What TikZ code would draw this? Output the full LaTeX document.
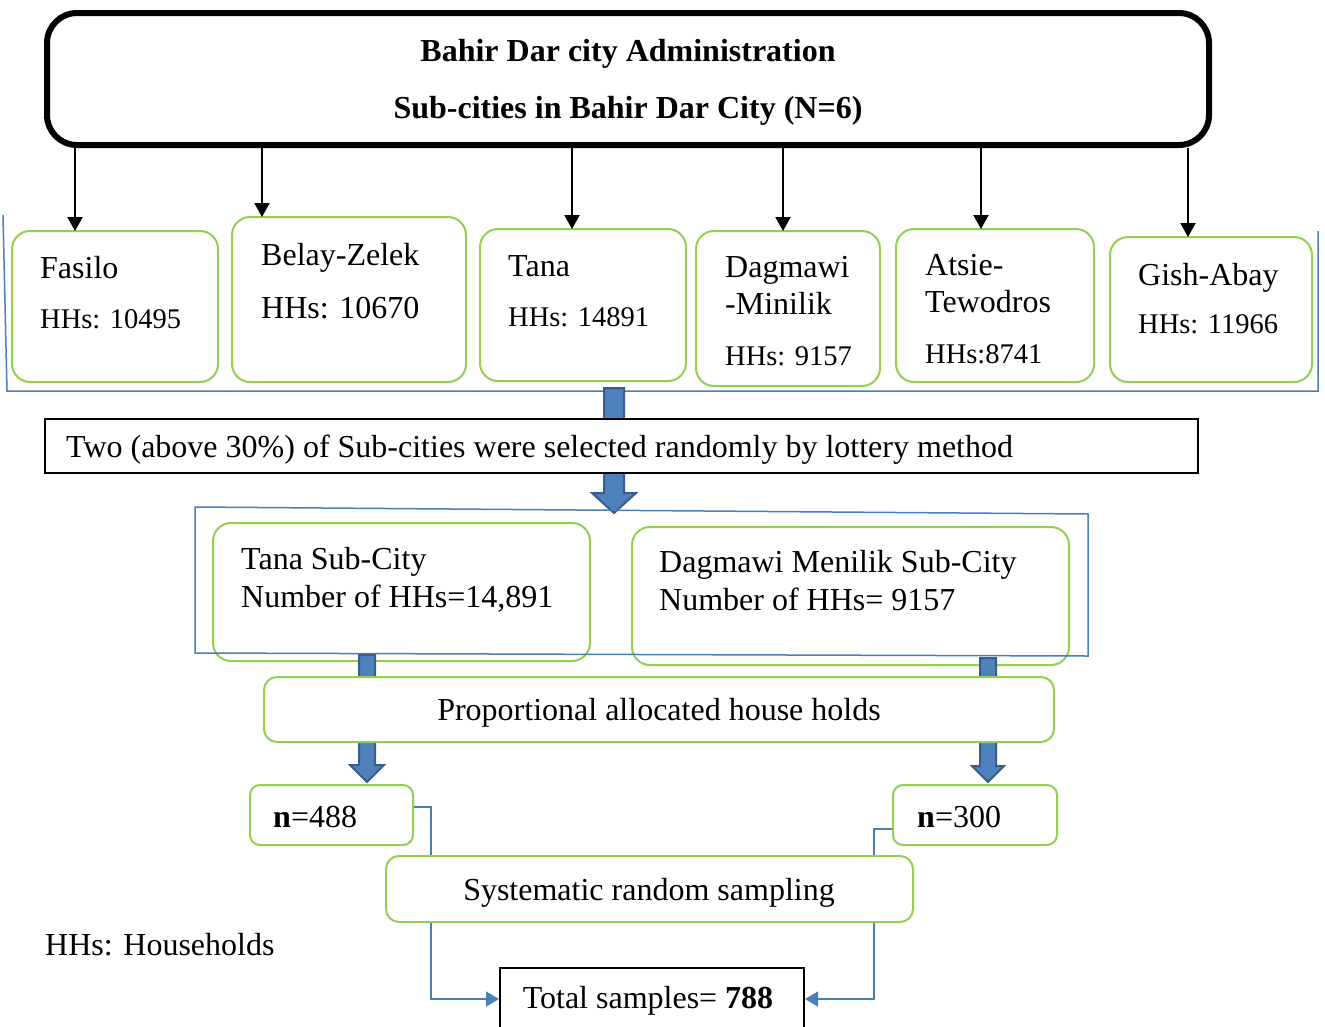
\documentclass[tikz,border=0pt]{standalone}
\usepackage{fontspec}
\setmainfont{Liberation Serif}
\usetikzlibrary{fit,calc,arrows.meta}

\definecolor{boxgreen}{RGB}{146,208,80}
\definecolor{lineblue}{RGB}{74,126,187}
\definecolor{arrowfill}{RGB}{79,129,189}
\definecolor{arrowedge}{RGB}{56,93,138}

\tikzset{
  gbox/.style={draw=boxgreen, line width=2pt, rounded corners=18pt, inner sep=0pt, fill=white},
  kbox/.style={draw=black, line width=2pt, inner sep=0pt, fill=white},
  txt/.style={anchor=base west, inner sep=0pt, font=\fontsize{32}{38}\selectfont},
  small/.style={anchor=base west, inner sep=0pt, font=\fontsize{28.5}{34}\selectfont},
  darrow/.style={line width=2pt, -{Triangle[width=15pt,length=14pt]}},
  barrow/.style={fill=arrowfill, draw=arrowedge, line width=2pt},
  bline/.style={draw=lineblue, line width=1.5pt},
  bconn/.style={bline, -{Triangle[width=15pt,length=13pt]}}
}

\newcommand{\blockarrow}[5]{%
  \filldraw[barrow] let \p1=(#1), \p2=(#2) in
    (\x1-#3,\y1) -- (\x1+#3,\y1) -- (\x1+#3,\y2+#5) -- (\x1+#4,\y2+#5)
    -- (\x1,\y2) -- (\x1-#4,\y2+#5) -- (\x1-#3,\y2+#5) -- cycle;}

\begin{document}
\begin{tikzpicture}[x=1pt,y=-1pt]
\useasboundingbox (0,0) rectangle (1325,1026);

\node[draw, line width=6pt, rounded corners=30pt, inner sep=0pt, fit={(47,13) (1209,145)}] (admin) {};
\node[txt, anchor=base, font=\fontsize{32}{38}\selectfont\bfseries] (admin-t1) at (628,61) {Bahir Dar city Administration};
\node[txt, anchor=base, font=\fontsize{32}{38}\selectfont\bfseries] (admin-t2) at (628,118) {Sub-cities in Bahir Dar City (N=6)};

% sub-cities
\node[gbox, fit={(12,231) (218,382)}] (fasilo) {};
\node[gbox, fit={(232,217) (466,382)}] (belay) {};
\node[gbox, fit={(480,229) (686,381)}] (tana) {};
\node[gbox, fit={(696,231) (880,386)}] (dagmawi) {};
\node[gbox, fit={(896,229) (1094,382)}] (atsie) {};
\node[gbox, fit={(1110,237) (1312,382)}] (gish) {};

\node[txt] (fasilo-n) at (40,278) {Fasilo};
\node[small] (fasilo-h) at (40,328) {HHs: 10495};
\node[txt] (belay-n) at (261,265) {Belay-Zelek};
\node[txt] (belay-h) at (261,318) {HHs: 10670};
\node[txt] (tana-n) at (508,276) {Tana};
\node[small] (tana-h) at (508,326) {HHs: 14891};
\node[txt] (dagmawi-n) at (725,277) {Dagmawi};
\node[txt] (dagmawi-m) at (725,314) {-Minilik};
\node[small] (dagmawi-h) at (725,365) {HHs: 9157};
\node[txt] (atsie-n) at (925,275) {Atsie-};
\node[txt] (atsie-m) at (925,312) {Tewodros};
\node[small] (atsie-h) at (925,363) {HHs:8741};
\node[txt] (gish-n) at (1138,285) {Gish-Abay};
\node[small] (gish-h) at (1138,333) {HHs: 11966};

\foreach \x/\y [count=\i] in {75/231,262/217,572/229,783/231,981/229,1188/237}{
  \coordinate (in\i) at (\x,\y);
  \draw[darrow] (admin.south -| in\i) -- (in\i);
}

\draw[bline] (3,215) -- (7,391) -- (1318,391) -- (1318,231);

% lottery step
\coordinate (a1s) at (614,388);
\coordinate (a1e) at (614,513);
\blockarrow{a1s}{a1e}{10pt}{22pt}{20pt}
\node[kbox, fit={(45,419) (1198,473)}] (lottery) {};
\node[txt] (lottery-t) at (66,457) {Two (above 30\%) of Sub-cities were selected randomly by lottery method};

% selected sub-cities
\node[gbox, fit={(213,523) (590,661)}] (tanasc) {};
\node[gbox, fit={(632,527) (1069,665)}] (dagmawisc) {};
\node[txt] (tanasc-n) at (241,569) {Tana Sub-City};
\node[txt] (tanasc-h) at (241,607) {Number of HHs=14,891};
\node[txt] (dagmawisc-n) at (659,572) {Dagmawi Menilik Sub-City};
\node[txt] (dagmawisc-h) at (659,610) {Number of HHs= 9157};
\draw[bline] (195,507) -- (1088,514) -- (1088,656) -- (195,653) -- cycle;

\coordinate (a2s) at (367,655);
\coordinate (a2e) at (367,782);
\coordinate (a3s) at (988,658);
\coordinate (a3e) at (988,782);
\blockarrow{a2s}{a2e}{8pt}{17pt}{17pt}
\blockarrow{a3s}{a3e}{8pt}{16pt}{16pt}

\node[gbox, rounded corners=13pt, fit={(264,677) (1054,742)}] (prop) {};
\node[txt, anchor=base] (prop-t) at (659,720) {Proportional allocated house holds};

% samples
\node[gbox, rounded corners=10pt, fit={(250,785) (413,845)}] (n1) {};
\node[txt] (n1-t) at (273,827) {\textbf{n}=488};
\node[gbox, rounded corners=10pt, fit={(893,785) (1057,845)}] (n2) {};
\node[txt] (n2-t) at (917,827) {\textbf{n}=300};

\node[kbox, fit={(500,968) (804,1030)}] (total) {};
\node[txt, anchor=base] (total-t) at (648,1008) {Total samples= \textbf{788}};

\draw[bconn] ([yshift=8pt]n1.east) -- ++(17,0) |- (total.west);
\draw[bconn] ([yshift=-14pt]n2.west) -- ++(-18,0) |- (total.east);

\node[gbox, rounded corners=13pt, fit={(386,856) (913,922)}] (sys) {};
\node[txt, anchor=base] (sys-t) at (649,900) {Systematic random sampling};

\node[txt] (legend) at (45,955) {HHs: Households};
\end{tikzpicture}
\end{document}
